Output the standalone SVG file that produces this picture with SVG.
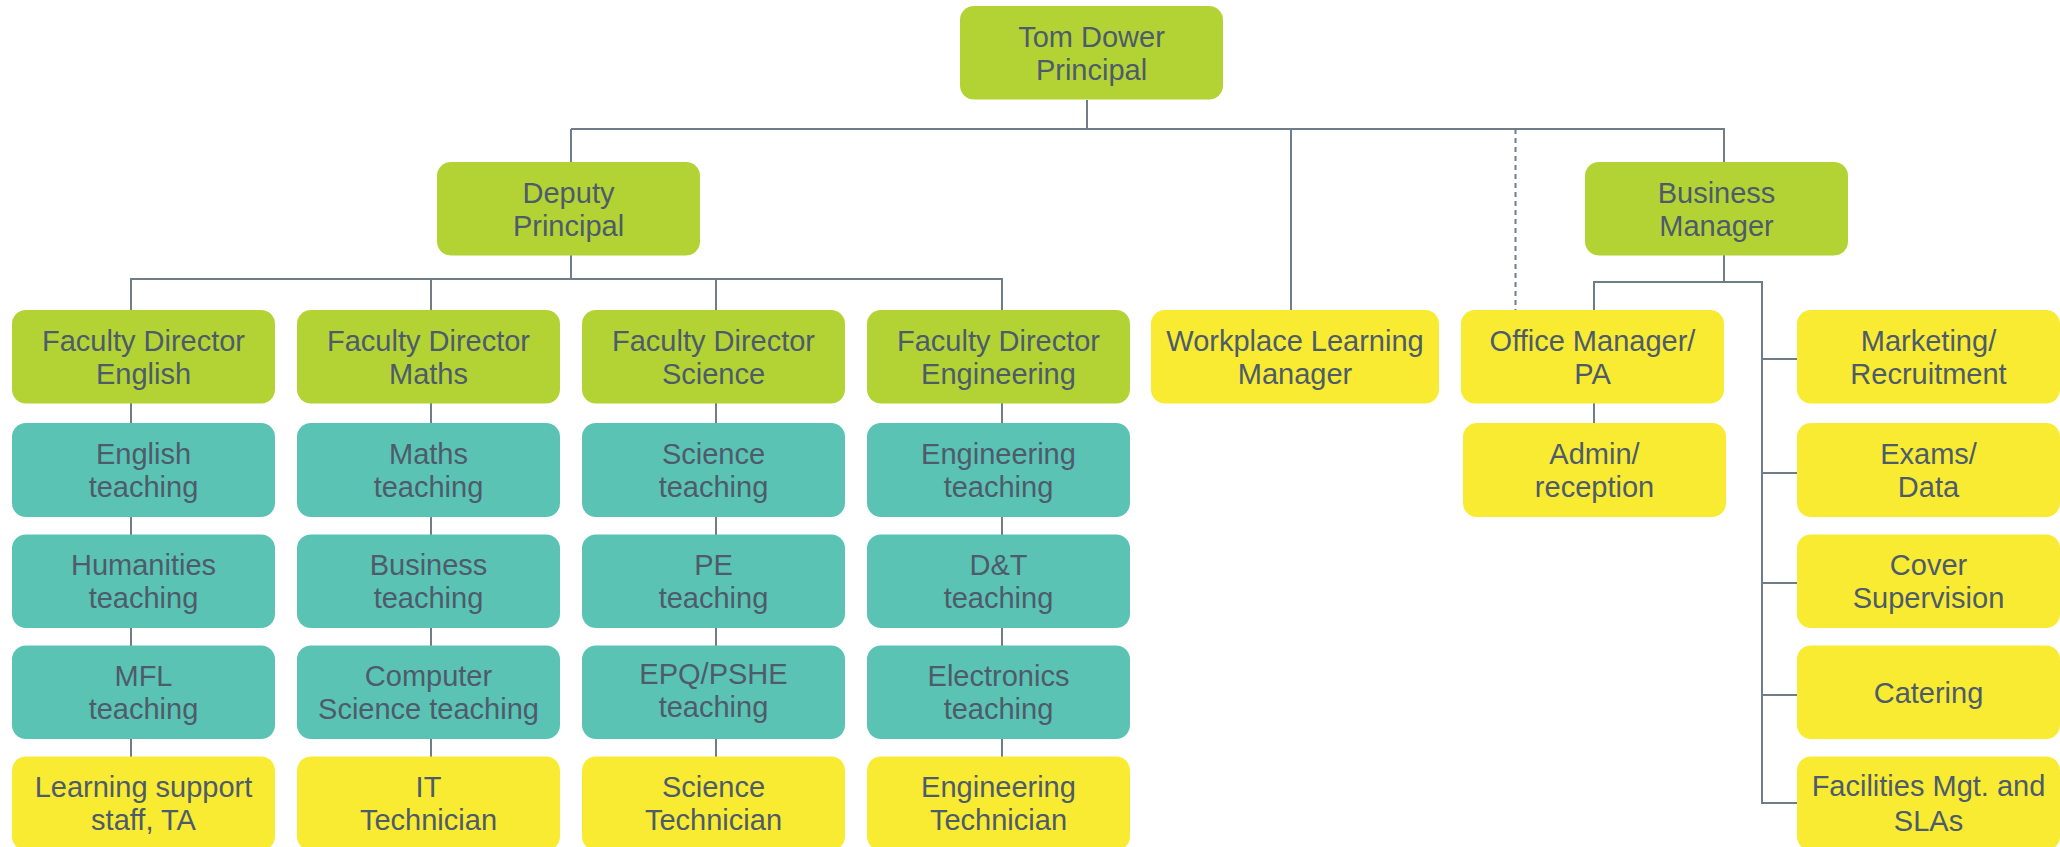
<svg xmlns="http://www.w3.org/2000/svg" width="2060" height="847" viewBox="0 0 2060 847">
<style>
.g{fill:#b3d335}
.t{fill:#5bc3b4}
.y{fill:#f8eb32}
text{font-family:"Liberation Sans",Arial,sans-serif;font-size:29px;fill:#4d5b6b;text-anchor:middle}
.c line{stroke:#6e7d88;stroke-width:2;fill:none}
.c .d{stroke-dasharray:5 4}
</style>
<rect width="2060" height="847" fill="#ffffff"/>
<g class="c" id="connectors">
<line x1="1087" y1="100" x2="1087" y2="129"/>
<line x1="571" y1="129" x2="1725" y2="129"/>
<line x1="571" y1="129" x2="571" y2="162"/>
<line x1="1291" y1="129" x2="1291" y2="310"/>
<line class="d" x1="1515.5" y1="129" x2="1515.5" y2="310"/>
<line x1="1724" y1="129" x2="1724" y2="162"/>
<line x1="571" y1="255" x2="571" y2="279"/>
<line x1="130" y1="279" x2="1003" y2="279"/>
<line x1="131" y1="279" x2="131" y2="760"/>
<line x1="431" y1="279" x2="431" y2="760"/>
<line x1="716" y1="279" x2="716" y2="760"/>
<line x1="1002" y1="279" x2="1002" y2="760"/>
<line x1="1724" y1="255" x2="1724" y2="282"/>
<line x1="1593" y1="282" x2="1763" y2="282"/>
<line x1="1594" y1="282" x2="1594" y2="425"/>
<line x1="1762" y1="282" x2="1762" y2="804"/>
<line x1="1762" y1="359" x2="1798" y2="359"/>
<line x1="1762" y1="473" x2="1798" y2="473"/>
<line x1="1762" y1="583" x2="1798" y2="583"/>
<line x1="1762" y1="695" x2="1798" y2="695"/>
<line x1="1762" y1="803" x2="1798" y2="803"/>
</g>
<g id="n-tom"><rect class="g" x="960" y="6" width="263" height="93.5" rx="14"/><text x="1091.5" y="46.5">Tom Dower</text><text x="1091.5" y="79.8">Principal</text></g>
<g id="n-deputy"><rect class="g" x="437" y="162" width="263" height="93.5" rx="14"/><text x="568.5" y="202.7">Deputy</text><text x="568.5" y="236">Principal</text></g>
<g id="n-business"><rect class="g" x="1585" y="162" width="263" height="93.5" rx="14"/><text x="1716.5" y="202.7">Business</text><text x="1716.5" y="236">Manager</text></g>

<g id="n-fd-english"><rect class="g" x="12" y="310" width="263" height="93.5" rx="14"/><text x="143.5" y="350.5">Faculty Director</text><text x="143.5" y="383.8">English</text></g>
<g id="n-fd-maths"><rect class="g" x="297" y="310" width="263" height="93.5" rx="14"/><text x="428.5" y="350.5">Faculty Director</text><text x="428.5" y="383.8">Maths</text></g>
<g id="n-fd-science"><rect class="g" x="582" y="310" width="263" height="93.5" rx="14"/><text x="713.5" y="350.5">Faculty Director</text><text x="713.5" y="383.8">Science</text></g>
<g id="n-fd-engineering"><rect class="g" x="867" y="310" width="263" height="93.5" rx="14"/><text x="998.5" y="350.5">Faculty Director</text><text x="998.5" y="383.8">Engineering</text></g>
<g id="n-workplace"><rect class="y" x="1151" y="310" width="288" height="93.5" rx="14"/><text x="1295" y="350.5">Workplace Learning</text><text x="1295" y="383.8">Manager</text></g>
<g id="n-office"><rect class="y" x="1461" y="310" width="263" height="93.5" rx="14"/><text x="1592.5" y="350.5">Office Manager/</text><text x="1592.5" y="383.8">PA</text></g>
<g id="n-marketing"><rect class="y" x="1797" y="310" width="263" height="93.5" rx="14"/><text x="1928.5" y="350.5">Marketing/</text><text x="1928.5" y="383.8">Recruitment</text></g>

<g id="n-english-t"><rect class="t" x="12" y="423" width="263" height="94" rx="14"/><text x="143.5" y="463.5">English</text><text x="143.5" y="496.8">teaching</text></g>
<g id="n-maths-t"><rect class="t" x="297" y="423" width="263" height="94" rx="14"/><text x="428.5" y="463.5">Maths</text><text x="428.5" y="496.8">teaching</text></g>
<g id="n-science-t"><rect class="t" x="582" y="423" width="263" height="94" rx="14"/><text x="713.5" y="463.5">Science</text><text x="713.5" y="496.8">teaching</text></g>
<g id="n-eng-t"><rect class="t" x="867" y="423" width="263" height="94" rx="14"/><text x="998.5" y="463.5">Engineering</text><text x="998.5" y="496.8">teaching</text></g>
<g id="n-admin"><rect class="y" x="1463" y="423" width="263" height="94" rx="14"/><text x="1594.5" y="463.5">Admin/</text><text x="1594.5" y="496.8">reception</text></g>
<g id="n-exams"><rect class="y" x="1797" y="423" width="263" height="94" rx="14"/><text x="1928.5" y="463.5">Exams/</text><text x="1928.5" y="496.8">Data</text></g>

<g id="n-humanities"><rect class="t" x="12" y="534.5" width="263" height="93.5" rx="14"/><text x="143.5" y="575">Humanities</text><text x="143.5" y="608.3">teaching</text></g>
<g id="n-business-t"><rect class="t" x="297" y="534.5" width="263" height="93.5" rx="14"/><text x="428.5" y="575">Business</text><text x="428.5" y="608.3">teaching</text></g>
<g id="n-pe"><rect class="t" x="582" y="534.5" width="263" height="93.5" rx="14"/><text x="713.5" y="575">PE</text><text x="713.5" y="608.3">teaching</text></g>
<g id="n-dt"><rect class="t" x="867" y="534.5" width="263" height="93.5" rx="14"/><text x="998.5" y="575">D&amp;T</text><text x="998.5" y="608.3">teaching</text></g>
<g id="n-cover"><rect class="y" x="1797" y="534.5" width="263" height="93.5" rx="14"/><text x="1928.5" y="575">Cover</text><text x="1928.5" y="608.3">Supervision</text></g>

<g id="n-mfl"><rect class="t" x="12" y="645.5" width="263" height="93.5" rx="14"/><text x="143.5" y="685.5">MFL</text><text x="143.5" y="718.8">teaching</text></g>
<g id="n-cs"><rect class="t" x="297" y="645.5" width="263" height="93.5" rx="14"/><text x="428.5" y="685.5">Computer</text><text x="428.5" y="718.8">Science teaching</text></g>
<g id="n-epq"><rect class="t" x="582" y="645.5" width="263" height="93.5" rx="14"/><text x="713.5" y="684">EPQ/PSHE</text><text x="713.5" y="717">teaching</text></g>
<g id="n-electronics"><rect class="t" x="867" y="645.5" width="263" height="93.5" rx="14"/><text x="998.5" y="685.5">Electronics</text><text x="998.5" y="718.8">teaching</text></g>
<g id="n-catering"><rect class="y" x="1797" y="645.5" width="263" height="93.5" rx="14"/><text x="1928.5" y="702.5">Catering</text></g>

<g id="n-learning"><rect class="y" x="12" y="756.5" width="263" height="94" rx="14"/><text x="143.5" y="797">Learning support</text><text x="143.5" y="830.3">staff, TA</text></g>
<g id="n-it"><rect class="y" x="297" y="756.5" width="263" height="94" rx="14"/><text x="428.5" y="797">IT</text><text x="428.5" y="830.3">Technician</text></g>
<g id="n-sci-tech"><rect class="y" x="582" y="756.5" width="263" height="94" rx="14"/><text x="713.5" y="797">Science</text><text x="713.5" y="830.3">Technician</text></g>
<g id="n-eng-tech"><rect class="y" x="867" y="756.5" width="263" height="94" rx="14"/><text x="998.5" y="797">Engineering</text><text x="998.5" y="830.3">Technician</text></g>
<g id="n-facilities"><rect class="y" x="1797" y="756.5" width="263" height="94" rx="14"/><text x="1928.5" y="796">Facilities Mgt. and</text><text x="1928.5" y="831">SLAs</text></g>
</svg>
